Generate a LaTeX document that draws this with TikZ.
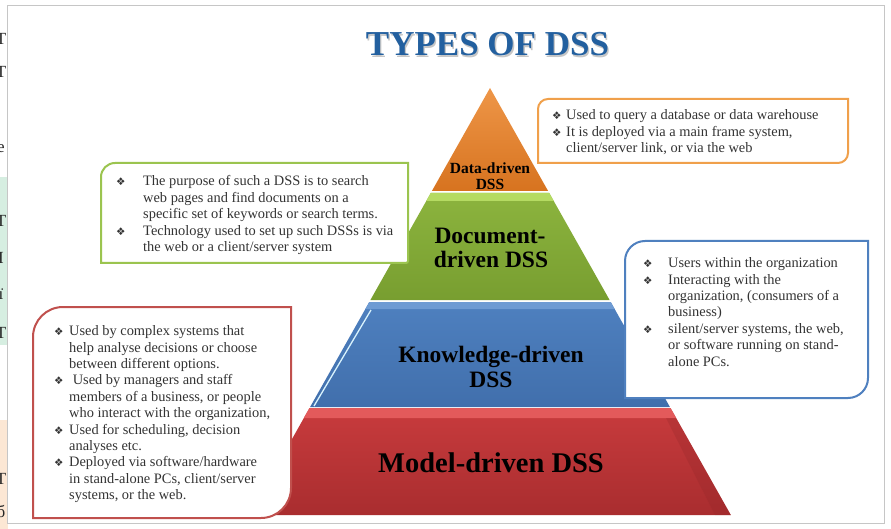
\documentclass[tikz,border=0pt]{standalone}
\usepackage{fontspec}
\setmainfont{Liberation Serif}
\newfontfamily\dejavu{DejaVu Sans}
\newcommand\dssbul[1]{\makebox[#1][l]{\raisebox{0pt}{\dejavu\fontsize{10.5}{10}\selectfont\color{black!80}❖}}}
\definecolor{orangeM}{HTML}{E5812C}
\definecolor{orangeL}{HTML}{EE9648}
\definecolor{orangeD}{HTML}{D7731F}
\definecolor{greenM}{HTML}{8CB43E}
\definecolor{greenL}{HTML}{B5DB62}
\definecolor{greenD}{HTML}{789E30}
\definecolor{blueM}{HTML}{4E80BF}
\definecolor{blueL}{HTML}{6E9BD3}
\definecolor{blueD}{HTML}{416FAC}
\definecolor{redM}{HTML}{C83B3D}
\definecolor{redL}{HTML}{E35A5B}
\definecolor{redD}{HTML}{A92D2F}
\definecolor{titleblue}{HTML}{23609F}
\definecolor{bOrange}{HTML}{F0A04B}
\definecolor{bGreen}{HTML}{9BC44F}
\definecolor{bBlue}{HTML}{4F80BF}
\definecolor{bRed}{HTML}{C0504D}
\definecolor{txt}{HTML}{333333}
\definecolor{stripG}{HTML}{D6EEE1}
\definecolor{stripO}{HTML}{FCE7D4}
\tikzset{
  boxtext/.style={font=\fontsize{14.4}{16.4}\selectfont, align=left, inner sep=0pt, text=txt, anchor=north west},
  lbl/.style={font=\bfseries, text=black, inner sep=0pt, anchor=base},
  calloutline/.style={line width=2pt, fill=white},
}
\begin{document}
\begin{tikzpicture}[x=1pt,y=-1pt]
\useasboundingbox (0,0) rectangle (891,529);
\fill[white] (0,0) rectangle (891,529);
% left strip (neighbouring page)
\fill[stripG] (0,177) rectangle (7.5,345);
\fill[stripO] (0,420) rectangle (7.5,529);
\begin{scope}
\clip (0,0) rectangle (7.5,529);
\foreach \yy/\ch [count=\i] in {42/T,75/T,150/e,224/T,261/I,297/ï,336/T,482/T,515/б}{
  \node[font=\fontsize{17}{17}\selectfont, text=black!85, inner sep=0pt, anchor=mid] (edge\i) at (1,\yy) {\ch};
}
\end{scope}
% frame
\draw[gray!45, line width=1pt] (7.5,5.5) rectangle (884,523.5);
% title
\node[font=\fontsize{35}{35}\selectfont\bfseries, text=gray!45, inner sep=0pt, anchor=base] (titleshadow) at (488.8,57.8) {TYPES OF DSS};
\node[font=\fontsize{35}{35}\selectfont\bfseries, text=titleblue, inner sep=0pt, anchor=base] (title) at (487.5,56) {TYPES OF DSS};
% pyramid layers
% orange
\shade[top color=orangeL, bottom color=orangeD] (490,88) -- (548.1,191) -- (431.9,191) -- cycle;
% green
\shade[top color=greenM, bottom color=greenD] (430.8,193) -- (549.2,193) -- (609.6,300) -- (370.4,300) -- cycle;
\fill[greenL] (430.8,193) -- (549.2,193) -- (553.7,201) -- (426.3,201) -- cycle;
% blue
\shade[top color=blueM, bottom color=blueD] (369.3,302) -- (610.7,302) -- (669.9,407) -- (310.1,407) -- cycle;
\fill[blueL] (369.3,302) -- (610.7,302) -- (614.6,309) -- (365.4,309) -- cycle;
\draw[cyan!15, line width=1.3pt] (371,310) -- (314,406);
% red
\shade[top color=redM, bottom color=redD] (309.5,408) -- (670.5,408) -- (730.8,515) -- (249.2,515) -- cycle;
\fill[redL] (309.5,408) -- (670.5,408) -- (676.1,418) -- (303.9,418) -- cycle;
\fill[redD!85!black, opacity=0.25] (676.1,418) -- (730.8,515) -- (715,515) -- (666,418) -- cycle;
% pyramid labels
\node[lbl, font=\fontsize{15.5}{15.5}\selectfont\bfseries] (ld1) at (490,173.5) {Data-driven};
\node[lbl, font=\fontsize{15.5}{15.5}\selectfont\bfseries] (ld2) at (490,190) {DSS};
\node[lbl, font=\fontsize{23.5}{23.5}\selectfont\bfseries] (lc1) at (490,244) {Document-};
\node[lbl, font=\fontsize{23.5}{23.5}\selectfont\bfseries] (lc2) at (491,268) {driven DSS};
\node[lbl, font=\fontsize{23.5}{23.5}\selectfont\bfseries] (lk1) at (491,362) {Knowledge-driven};
\node[lbl, font=\fontsize{23.5}{23.5}\selectfont\bfseries] (lk2) at (491,387) {DSS};
\node[lbl, font=\fontsize{28.5}{28.5}\selectfont\bfseries] (lm1) at (491,472) {Model-driven DSS};
% callout boxes
\draw[calloutline, draw=bOrange] (538,163) -- (538,109) arc[start angle=180, end angle=270, radius=10] -- (848,99) -- (848,153) arc[start angle=0, end angle=90, radius=10] -- cycle;
\draw[calloutline, draw=bGreen] (101,263) -- (101,177) arc[start angle=180, end angle=270, radius=14] -- (408,163) -- (408,261) arc[start angle=0, end angle=90, radius=2] -- cycle;
\draw[calloutline, draw=bBlue] (625,398) -- (625,261) arc[start angle=180, end angle=270, radius=20] -- (868,241) -- (868,378) arc[start angle=0, end angle=90, radius=20] -- cycle;
\draw[calloutline, draw=bRed] (33,518) -- (33,337) arc[start angle=180, end angle=270, radius=30] -- (291,307) -- (291,488) arc[start angle=0, end angle=90, radius=30] -- cycle;
% callout texts
\node[boxtext] (tdata) at (552,109.5) {\dssbul{14pt}Used to query a database or data warehouse\\
\dssbul{14pt}It is deployed via a main frame system,\\
\hspace*{14pt}client/server link, or via the web};
\node[boxtext] (tdoc) at (116,175.5) {\dssbul{27pt}The purpose of such a DSS is to search\\
\hspace*{27pt}web pages and find documents on a\\
\hspace*{27pt}specific set of keywords or search terms.\\
\dssbul{27pt}Technology used to set up such DSSs is via\\
\hspace*{27pt}the web or a client/server system};
\node[boxtext] (tknow) at (643,257.5) {\dssbul{25pt}Users within the organization\\
\dssbul{25pt}Interacting with the\\
\hspace*{25pt}organization, (consumers of a\\
\hspace*{25pt}business)\\
\dssbul{25pt}silent/server systems, the web,\\
\hspace*{25pt}or software running on stand-\\
\hspace*{25pt}alone PCs.};
\node[boxtext] (tmodel) at (54,325.5) {\dssbul{15pt}Used by complex systems that\\
\hspace*{15pt}help analyse decisions or choose\\
\hspace*{15pt}between different options.\\
\dssbul{15pt} Used by managers and staff\\
\hspace*{15pt}members of a business, or people\\
\hspace*{15pt}who interact with the organization,\\
\dssbul{15pt}Used for scheduling, decision\\
\hspace*{15pt}analyses etc.\\
\dssbul{15pt}Deployed via software/hardware\\
\hspace*{15pt}in stand-alone PCs, client/server\\
\hspace*{15pt}systems, or the web.};
\end{tikzpicture}
\end{document}
